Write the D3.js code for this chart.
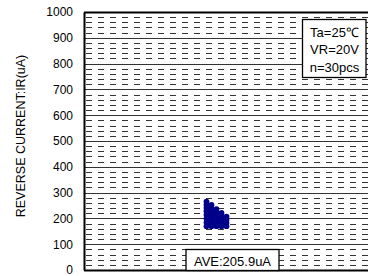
<!DOCTYPE html>
<html>
<head>
<meta charset="utf-8">
<script src="https://cdn.jsdelivr.net/npm/d3@7"></script>
<style>
  body { margin: 0; background: #fff; }
  svg { display: block; font-family: Arial, "Liberation Sans", sans-serif; }
</style>
</head>
<body>
<div id="chart"></div>
<script>
// Five stacked columns of measured points (x = column index)
var columns = [1, 2, 3, 4, 5];
var col1 = [265, 252, 240, 228, 214, 199, 184, 170];
var col2 = [252, 238, 224, 212, 198, 184, 170];
var col3 = [236, 222, 210, 196, 183, 170];
var col4 = [221, 208, 195, 182, 170];
var col5 = [207, 194, 182, 170];
var yTicks = [0, 100, 200, 300, 400, 500, 600, 700, 800, 900, 1000];
var conditions = ["Ta=25\u2103", "VR=20V", "n=30pcs"];
var aveLabel = "AVE:205.9uA";
var yTitle = "REVERSE CURRENT:IR(uA)";

var outerWidth = 368, outerHeight = 276;
var plot = {left: 84, right: 372, top: 12, bottom: 270};

var points = [];
[col1, col2, col3, col4, col5].forEach(function(vals, i) {
    vals.forEach(function(v) { points.push([columns[i], v]); });
});

var svg = d3.select("#chart")
    .append("svg")
    .attr("width", outerWidth)
    .attr("height", outerHeight);

var xScale = d3.scaleLinear()
    .domain([-23.5, 34.1])
    .range([plot.left, plot.right]);

var yScale = d3.scaleLinear()
    .domain([0, 1000])
    .range([plot.bottom, plot.top]);

// Minor dashed gridlines every 20
var minor = d3.range(0, 1000, 20).filter(d => d % 100 != 0);
svg.append("g")
    .selectAll("line")
    .data(minor)
    .enter().append("line")
    .attr("x1", plot.left + 2)
    .attr("x2", plot.right)
    .attr("y1", d => Math.round(yScale(d)) + 0.5)
    .attr("y2", d => Math.round(yScale(d)) + 0.5)
    .attr("stroke", "#333")
    .attr("stroke-width", 1)
    .attr("stroke-dasharray", "6,6");

// Major gridlines every 100
svg.append("g")
    .selectAll("line")
    .data(yTicks)
    .enter().append("line")
    .attr("x1", plot.left)
    .attr("x2", plot.right)
    .attr("y1", d => Math.round(yScale(d)) + 0.5)
    .attr("y2", d => Math.round(yScale(d)) + 0.5)
    .attr("stroke", d => (d == 0 || d == 1000) ? "#000" : "#333")
    .attr("stroke-width", d => (d == 0 || d == 1000) ? 2 : 1);

// Y axis
var yAxis = svg.append("g")
    .attr("transform", "translate(" + plot.left + ",0)")
    .call(d3.axisLeft(yScale).tickValues(yTicks).tickFormat(d3.format("d"))
          .tickSize(0).tickPadding(11));
yAxis.select(".domain").attr("stroke", "#000").attr("stroke-width", 2);
yAxis.selectAll("text")
    .style("font-size", "12px")
    .style("font-family", "Arial, 'Liberation Sans', sans-serif")
    .attr("fill", "#000");

svg.append("text")
    .attr("transform", "translate(25,136) rotate(-90)")
    .attr("text-anchor", "middle")
    .style("font-size", "12.5px")
    .text(yTitle);

// Points
svg.append("g")
    .selectAll("circle")
    .data(points)
    .enter().append("circle")
    .attr("cx", d => xScale(d[0]))
    .attr("cy", d => yScale(d[1]))
    .attr("r", 2.9)
    .attr("fill", "#00008b");

// Conditions box
svg.append("rect")
    .attr("x", 302.5).attr("y", 19.5)
    .attr("width", 63.5).attr("height", 58)
    .attr("fill", "#fff").attr("stroke", "#000").attr("stroke-width", 1.3);
svg.append("g")
    .selectAll("text")
    .data(conditions)
    .enter().append("text")
    .attr("x", 334.5)
    .attr("y", (d, i) => 36.5 + i * 17.5)
    .attr("text-anchor", "middle")
    .style("font-size", "13px")
    .text(d => d);

// Average box
svg.append("rect")
    .attr("x", 186).attr("y", 249.5)
    .attr("width", 93).attr("height", 21)
    .attr("fill", "#fff").attr("stroke", "#000").attr("stroke-width", 1.3);
svg.append("text")
    .attr("x", 232.5)
    .attr("y", 265.5)
    .attr("text-anchor", "middle")
    .style("font-size", "13px")
    .text(aveLabel);
</script>
</body>
</html>
